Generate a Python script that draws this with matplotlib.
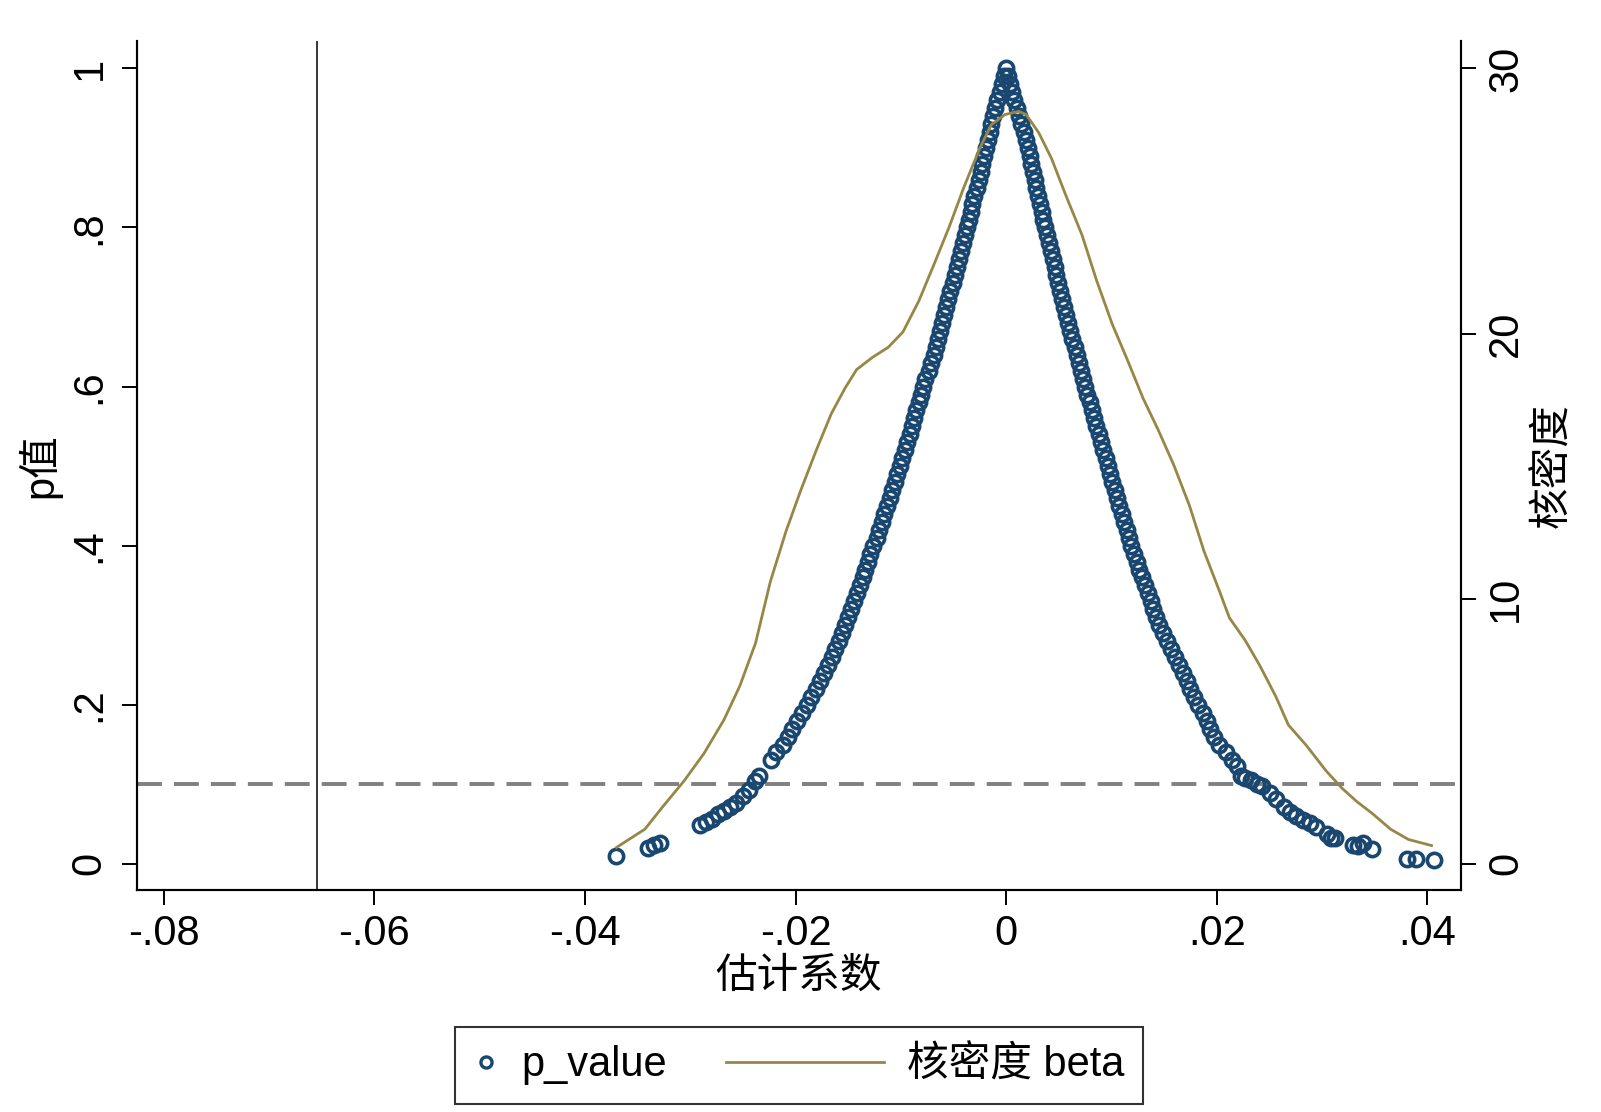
import matplotlib
matplotlib.use("Agg")
import matplotlib.pyplot as plt
from matplotlib.lines import Line2D
from matplotlib.legend_handler import HandlerLine2D

plt.rcParams["font.family"] = ["Liberation Sans", "Noto Sans CJK SC"]

NAVY = "#1a476f"
KHAKI = "#968746"

# placebo estimates and their p values, left branch (low tail, then the dense band)
beta_left = [-0.03703, -0.03403, -0.03345, -0.03287, -0.02908, -0.02850, -0.02792, -0.02734,
             -0.02676, -0.02618, -0.02569, -0.02501, -0.02443, -0.02385, -0.02346,
             -0.02230, -0.02181, -0.02123, -0.02075, -0.02036, -0.01987, -0.01939, -0.01890,
             -0.01852, -0.01803, -0.01764, -0.01726, -0.01687, -0.01658, -0.01629, -0.01590,
             -0.01561, -0.01532, -0.01503, -0.01474, -0.01445, -0.01415, -0.01386, -0.01357,
             -0.01338, -0.01309, -0.01289, -0.01260, -0.01231, -0.01212, -0.01183, -0.01163,
             -0.01134, -0.01105, -0.01086, -0.01057, -0.01037, -0.01008, -0.00989, -0.00960,
             -0.00940, -0.00911, -0.00892, -0.00873, -0.00853, -0.00824, -0.00805, -0.00785,
             -0.00766, -0.00737, -0.00717, -0.00688, -0.00669, -0.00650, -0.00630, -0.00611,
             -0.00591, -0.00572, -0.00553, -0.00533, -0.00504, -0.00485, -0.00465, -0.00446,
             -0.00427, -0.00407, -0.00388, -0.00368, -0.00349, -0.00330, -0.00320, -0.00301,
             -0.00281, -0.00262, -0.00242, -0.00233, -0.00213, -0.00194, -0.00175, -0.00155,
             -0.00145, -0.00126, -0.00107, -0.00087, -0.00058, -0.00039, -0.00019, 0.0]
p_left = [0.0103, 0.0193, 0.0231, 0.0257, 0.0488, 0.0526, 0.0565, 0.0629,
          0.0668, 0.0719, 0.0770, 0.0847, 0.0924, 0.1040, 0.1104,
          0.13, 0.14, 0.15, 0.16, 0.17, 0.18, 0.19, 0.20,
          0.21, 0.22, 0.23, 0.24, 0.25, 0.26, 0.27, 0.28,
          0.29, 0.30, 0.31, 0.32, 0.33, 0.34, 0.35, 0.36,
          0.37, 0.38, 0.39, 0.40, 0.41, 0.42, 0.43, 0.44,
          0.45, 0.46, 0.47, 0.48, 0.49, 0.50, 0.51, 0.52,
          0.53, 0.54, 0.55, 0.56, 0.57, 0.58, 0.59, 0.60,
          0.61, 0.62, 0.63, 0.64, 0.65, 0.66, 0.67, 0.68,
          0.69, 0.70, 0.71, 0.72, 0.73, 0.74, 0.75, 0.76,
          0.77, 0.78, 0.79, 0.80, 0.81, 0.82, 0.83, 0.84,
          0.85, 0.86, 0.87, 0.88, 0.89, 0.90, 0.91, 0.92,
          0.93, 0.94, 0.95, 0.96, 0.97, 0.98, 0.99, 1.0]

# right branch (dense band, then the low tail)
beta_right = [0.00019, 0.00039, 0.00058, 0.00078, 0.00107, 0.00126, 0.00145, 0.00165,
              0.00184, 0.00204, 0.00223, 0.00233, 0.00252, 0.00271, 0.00281, 0.00301,
              0.00320, 0.00339, 0.00349, 0.00368, 0.00388, 0.00407, 0.00427, 0.00446,
              0.00465, 0.00475, 0.00494, 0.00514, 0.00533, 0.00553, 0.00572, 0.00591,
              0.00611, 0.00630, 0.00650, 0.00669, 0.00688, 0.00708, 0.00727, 0.00747,
              0.00766, 0.00795, 0.00814, 0.00834, 0.00853, 0.00882, 0.00902, 0.00921,
              0.00950, 0.00969, 0.00989, 0.01008, 0.01037, 0.01057, 0.01076, 0.01096,
              0.01115, 0.01144, 0.01163, 0.01183, 0.01212, 0.01241, 0.01260, 0.01289,
              0.01318, 0.01348, 0.01377, 0.01396, 0.01425, 0.01454, 0.01493, 0.01532,
              0.01561, 0.01600, 0.01638, 0.01677, 0.01716, 0.01745, 0.01784, 0.01823,
              0.01871, 0.01910, 0.01939, 0.01978, 0.02026, 0.02084, 0.02142,
              0.02191, 0.02230, 0.02269, 0.02327, 0.02385, 0.02433, 0.02501, 0.02559,
              0.02637, 0.02695, 0.02753, 0.02821, 0.02889, 0.02947, 0.03044, 0.03083,
              0.03122, 0.03296, 0.03345, 0.03393, 0.03471, 0.03810, 0.03888, 0.04062]
p_right = [0.99, 0.98, 0.97, 0.96, 0.95, 0.94, 0.93, 0.92,
           0.91, 0.90, 0.89, 0.88, 0.87, 0.86, 0.85, 0.84,
           0.83, 0.82, 0.81, 0.80, 0.79, 0.78, 0.77, 0.76,
           0.75, 0.74, 0.73, 0.72, 0.71, 0.70, 0.69, 0.68,
           0.67, 0.66, 0.65, 0.64, 0.63, 0.62, 0.61, 0.60,
           0.59, 0.58, 0.57, 0.56, 0.55, 0.54, 0.53, 0.52,
           0.51, 0.50, 0.49, 0.48, 0.47, 0.46, 0.45, 0.44,
           0.43, 0.42, 0.41, 0.40, 0.39, 0.38, 0.37, 0.36,
           0.35, 0.34, 0.33, 0.32, 0.31, 0.30, 0.29, 0.28,
           0.27, 0.26, 0.25, 0.24, 0.23, 0.22, 0.21, 0.20,
           0.19, 0.18, 0.17, 0.16, 0.15, 0.14, 0.13,
           0.123, 0.110, 0.108, 0.105, 0.100, 0.098, 0.089, 0.081,
           0.072, 0.065, 0.060, 0.055, 0.051, 0.046, 0.037, 0.033,
           0.032, 0.024, 0.023, 0.026, 0.018, 0.006, 0.006, 0.005]

# kernel density of beta (right axis)
kd_x = [-0.0370, -0.0343, -0.0326, -0.0306, -0.0287, -0.0268, -0.0253, -0.0238, -0.0224,
        -0.0209, -0.0195, -0.0180, -0.0166, -0.0153, -0.0142, -0.0127, -0.0112, -0.0098,
        -0.0083, -0.0069, -0.0054, -0.0040, -0.0025, -0.0014, -0.0001, 0.0012, 0.0019,
        0.0031, 0.0043, 0.0057, 0.0072, 0.0086, 0.0101, 0.0115, 0.0130, 0.0144, 0.0159,
        0.0174, 0.0188, 0.0203, 0.0212, 0.0227, 0.0241, 0.0256, 0.0268, 0.0285, 0.0304,
        0.0319, 0.0333, 0.0348, 0.0365, 0.0382, 0.0404]
kd_y = [0.62, 1.31, 2.16, 3.12, 4.16, 5.43, 6.70, 8.32, 10.63,
        12.55, 14.09, 15.63, 16.98, 17.94, 18.64, 19.10, 19.48, 20.06,
        21.22, 22.56, 24.03, 25.53, 26.99, 27.88, 28.26, 28.38, 28.26,
        27.57, 26.61, 25.18, 23.72, 21.99, 20.33, 19.02, 17.56, 16.40, 15.06,
        13.52, 11.78, 10.24, 9.28, 8.43, 7.47, 6.32, 5.24, 4.47, 3.50,
        2.85, 2.35, 1.89, 1.31, 0.92, 0.69]

true_beta = -0.0654
p_cut = 0.1

x_ticks = [-0.08, -0.06, -0.04, -0.02, 0.0, 0.02, 0.04]
x_labels = ["-.08", "-.06", "-.04", "-.02", "0", ".02", ".04"]
p_ticks = [0, 0.2, 0.4, 0.6, 0.8, 1.0]
p_labels = ["0", ".2", ".4", ".6", ".8", "1"]
kd_ticks = [0, 10, 20, 30]

FS = 30


class LongLine(HandlerLine2D):
    # legend line that reaches further left than its handle box
    def create_artists(self, legend, orig_handle, xdescent, ydescent, width, height, fontsize, trans):
        ext = 3.2 * fontsize
        return super().create_artists(legend, orig_handle, xdescent + ext, ydescent,
                                      width + ext, height, fontsize, trans)


fig = plt.figure(figsize=(16.01, 11.12), dpi=100)
ax = fig.add_axes([0.0854, 0.1993, 0.9126 - 0.0854, 0.9633 - 0.1993])
ax2 = ax.twinx()

ax.axhline(p_cut, color="#808080", lw=2.8, dashes=(6.4, 3.1), zorder=1)
ax.axvline(true_beta, color="black", lw=1.1, zorder=1)
ax.plot(beta_left + beta_right, p_left + p_right, ls="none", marker="o", ms=10.3,
        mfc="none", mec=NAVY, mew=2.6, zorder=2)
ax2.plot(kd_x, kd_y, color=KHAKI, lw=2)

ax.set_xlim(-0.08256, 0.0432)
ax.set_ylim(-0.0334, 1.0347)
ax2.set_ylim(-1.0, 31.04)

ax.set_xticks(x_ticks, x_labels)
ax.set_yticks(p_ticks, p_labels, rotation=90, va="center")
ax2.set_yticks(kd_ticks, [str(t) for t in kd_ticks], rotation=90, va="center")

for a in (ax, ax2):
    a.spines["top"].set_visible(False)
    for s in a.spines.values():
        s.set_linewidth(1.5)
    a.tick_params(length=11, width=1.4, labelsize=FS, direction="out")
ax.tick_params(axis="x", pad=6)
ax.tick_params(axis="y", pad=8.5)
ax2.tick_params(axis="y", pad=7)

ax.set_xlabel("估计系数", fontsize=FS, labelpad=2)
ax.set_ylabel("p值", fontsize=FS, labelpad=6)
ax2.set_ylabel("核密度", fontsize=FS, labelpad=5)

h1 = Line2D([], [], ls="none", marker="o", ms=8, mfc="none", mec=NAVY, mew=2.4)
h2 = Line2D([], [], color=KHAKI, lw=2)
leg = fig.legend([h1, h2], ["p_value", "核密度 beta"], loc="center", bbox_to_anchor=(0.499, 0.042),
                 ncol=2, fontsize=FS, frameon=True, fancybox=False, edgecolor="black",
                 handlelength=0.6, handletextpad=0.55, columnspacing=4.6, borderpad=0.45,
                 borderaxespad=0, handler_map={h2: LongLine()})
leg.get_frame().set_linewidth(1.5)

fig.savefig("out.png", dpi=100)
